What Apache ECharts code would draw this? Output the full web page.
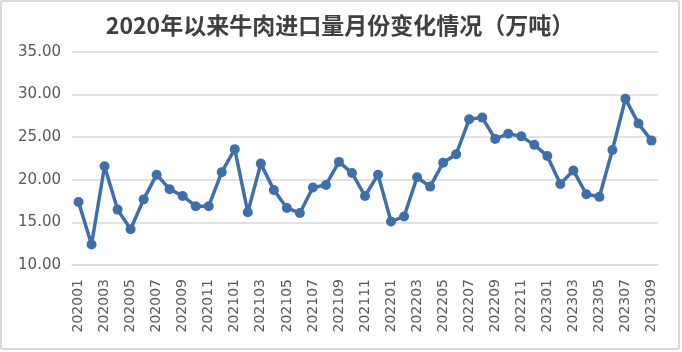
<!DOCTYPE html>
<html>
<head>
<meta charset="utf-8">
<script src="https://cdn.jsdelivr.net/npm/echarts@6/dist/echarts.min.js"></script>
<style>
  html, body { margin: 0; padding: 0; background: #fff; }
  #chart { position: absolute; left: 0; top: 0; width: 682px; height: 352px; }
  #frame {
    position: absolute; left: 0; top: 0; width: 680px; height: 350px;
    box-sizing: border-box; border: 2px solid #d9d9d9; border-radius: 3px;
    pointer-events: none;
  }
</style>
</head>
<body>
<div id="chart"></div>
<div id="frame"></div>
<script>
// 月份
var months = [
  '202001', '202002', '202003', '202004', '202005', '202006', '202007', '202008', '202009', '202010', '202011', '202012',
  '202101', '202102', '202103', '202104', '202105', '202106', '202107', '202108', '202109', '202110', '202111', '202112',
  '202201', '202202', '202203', '202204', '202205', '202206', '202207', '202208', '202209', '202210', '202211', '202212',
  '202301', '202302', '202303', '202304', '202305', '202306', '202307', '202308', '202309'
]
// 进口量（万吨）
var imports = [
  17.4, 12.4, 21.6, 16.5, 14.2, 17.7, 20.6, 18.9, 18.1, 16.9, 16.9, 20.9,
  23.6, 16.2, 21.9, 18.8, 16.7, 16.1, 19.1, 19.4, 22.1, 20.8, 18.1, 20.6,
  15.1, 15.7, 20.3, 19.2, 22.0, 23.0, 27.1, 27.3, 24.8, 25.4, 25.1, 24.1,
  22.8, 19.5, 21.1, 18.3, 18.0, 23.5, 29.5, 26.6, 24.6
]
var titleText = '2020年以来牛肉进口量月份变化情况（万吨）'

var chart = echarts.init(document.getElementById('chart'))
chart.setOption({
  backgroundColor: '#fff',
  animation: false,
  title: {
    text: titleText,
    left: 335,
    textAlign: 'center',
    top: 9,
    textStyle: {
      color: '#404040',
      fontSize: 23,
      fontWeight: 'bold',
      fontFamily: 'Noto Sans CJK SC'
    }
  },
  grid: {
    left: 72,
    right: 24,
    top: 52,
    bottom: 87
  },
  xAxis: {
    type: 'category',
    data: months,
    boundaryGap: true,
    axisLine: { lineStyle: { color: '#d9d9d9', width: 1.5 } },
    axisTick: { show: false },
    axisLabel: {
      interval: 1,
      rotate: 90,
      margin: 14,
      color: '#595959',
      fontSize: 14,
      fontFamily: 'DejaVu Sans'
    }
  },
  yAxis: {
    type: 'value',
    min: 10,
    max: 35,
    interval: 5,
    axisLine: { show: false },
    axisTick: { show: false },
    splitLine: { lineStyle: { color: '#d9d9d9', width: 1.5 } },
    axisLabel: {
      margin: 11,
      color: '#595959',
      fontSize: 15,
      fontFamily: 'DejaVu Sans',
      formatter: function (v) { return v.toFixed(2) }
    }
  },
  series: [
    {
      name: '进口量',
      type: 'line',
      data: imports,
      symbol: 'circle',
      symbolSize: 10,
      showAllSymbol: true,
      lineStyle: { color: '#3f6faa', width: 3.5 },
      itemStyle: { color: '#3f6faa' }
    }
  ]
})
</script>
</body>
</html>
